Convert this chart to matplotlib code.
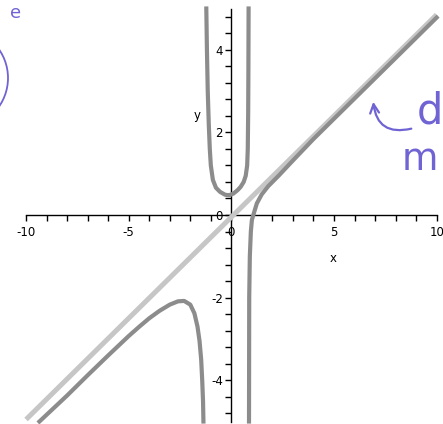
import numpy as np
import matplotlib.pyplot as plt
from matplotlib.patches import Arc

# slant asymptote (two ends of the straight line)
asym_x = [-10.0, 10.0]
asym_y = [-4.95, 4.85]

# the three branches of the curve
left_x = [-9.35, -8.0, -7.0, -6.0, -5.0, -4.5, -4.0, -3.5, -3.0, -2.6, -2.3,
          -2.0, -1.8, -1.65, -1.55, -1.47, -1.42, -1.38, -1.36]
left_y = [-5.0, -4.37, -3.88, -3.4, -2.93, -2.71, -2.5, -2.32, -2.17, -2.09,
          -2.08, -2.17, -2.38, -2.7, -3.05, -3.5, -4.0, -4.5, -5.0]

mid_x = [-1.22, -1.19, -1.15, -1.1, -1.05, -1.0, -0.9, -0.75, -0.55, -0.3,
         -0.1, 0.1, 0.3, 0.45, 0.6, 0.7, 0.77, 0.8, 0.82, 0.83, 0.84]
mid_y = [5.0, 4.0, 3.0, 2.2, 1.6, 1.2, 0.85, 0.66, 0.56, 0.49, 0.48, 0.52,
         0.6, 0.68, 0.8, 0.95, 1.2, 1.6, 2.5, 3.5, 5.0]

right_x = [0.86, 0.87, 0.9, 0.95, 1.0, 1.07, 1.24, 1.48, 1.8, 2.3, 3.0, 4.0,
           5.0, 6.0, 7.0, 8.0, 9.0, 10.0]
right_y = [-5.0, -2.0, -1.0, -0.4, -0.12, 0.0, 0.28, 0.5, 0.7, 0.95, 1.32,
           1.84, 2.33, 2.82, 3.31, 3.8, 4.29, 4.78]

xticks_major = [-10, -5, 0, 5, 10]
yticks_major = [-4, -2, 0, 2, 4]

fig = plt.figure(figsize=(4.43, 4.24), dpi=100)
ax = fig.add_axes([0, 0, 1, 1])
ax.set_xlim(-11.27, 10.31)
ax.set_ylim(-5.06, 5.206)

ax.plot(asym_x, asym_y, color='#c6c6c6', lw=3.6, solid_capstyle='butt', zorder=2)
for bx, by in [(left_x, left_y), (mid_x, mid_y), (right_x, right_y)]:
    ax.plot(bx, by, color='#8c8c8c', lw=3.0, zorder=3)

# axes through the origin
for s in ['top', 'right']:
    ax.spines[s].set_visible(False)
ax.spines['left'].set_position(('data', 0))
ax.spines['bottom'].set_position(('data', 0))
ax.spines['bottom'].set_bounds(-10, 10)
ax.spines['left'].set_bounds(-5, 5)
for s in ['left', 'bottom']:
    ax.spines[s].set_linewidth(1.0)
    ax.spines[s].set_zorder(1)

ax.set_xticks(xticks_major)
ax.set_xticks(np.arange(-10, 11, 1), minor=True)
ax.set_yticks(yticks_major)
ax.set_yticks(np.arange(-4.8, 4.81, 0.4), minor=True)
ax.set_xticklabels([str(v) for v in xticks_major])
ax.set_yticklabels([str(v) for v in yticks_major])
ax.tick_params(which='both', direction='out', length=4, width=1, labelsize=8.5)
ax.tick_params(axis='x', pad=4)
ax.tick_params(axis='y', pad=2)

ax.text(4.96, -1.05, 'x', fontsize=8.5, ha='center', va='center')
ax.text(-1.67, 2.42, 'y', fontsize=8.5, ha='center', va='center')

# pen notes on top of the printout
ink_c = '#7064d4'
ink = fig.add_axes([0, 0, 1, 1])
ink.set_xlim(0, 443)
ink.set_ylim(424, 0)
ink.axis('off')
ink.add_patch(Arc((-42, 78), 100, 100, theta1=-42, theta2=42, color=ink_c, lw=1.3))
ink.text(10, 18, 'e', color=ink_c, fontsize=13, ha='left', va='baseline')
ink.annotate('', xy=(373, 99), xytext=(414, 128),
             arrowprops=dict(arrowstyle='->', color=ink_c, lw=1.6,
                             connectionstyle='arc3,rad=-0.6',
                             mutation_scale=16))
ink.text(417, 123, 'd', color=ink_c, fontsize=30, ha='left', va='baseline')
ink.text(402, 170, 'm', color=ink_c, fontsize=27, ha='left', va='baseline')

fig.savefig('out.png', dpi=100)
